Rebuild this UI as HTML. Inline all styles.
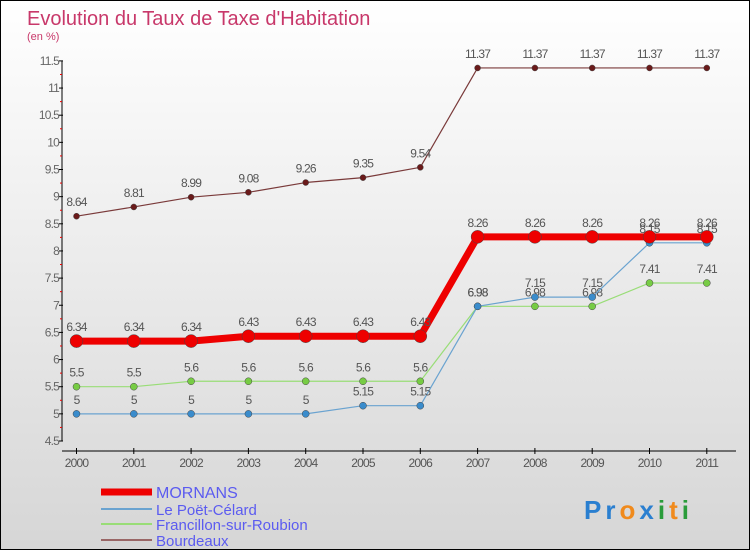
<!DOCTYPE html>
<html><head><meta charset="utf-8"><style>
html,body{margin:0;padding:0}
body{width:750px;height:550px;overflow:hidden;font-family:"Liberation Sans",sans-serif}
#wrap{position:relative;width:748px;height:548px;border:1px solid #000;background:linear-gradient(#ffffff,#d6d6d6)}
svg{position:absolute;left:0;top:0}
</style></head><body>
<div id="wrap">
<svg id="chart" width="750" height="550">
<text x="26" y="24" font-size="20" fill="#c8386a">Evolution du Taux de Taxe d'Habitation</text>
<text x="26" y="39" font-size="11" fill="#c8386a">(en %)</text>
<text x="583" y="518" font-size="26" font-weight="bold" letter-spacing="4"><tspan fill="#2a7fd0">Pr</tspan><tspan fill="#f08a1c">o</tspan><tspan fill="#2a7fd0">x</tspan><tspan fill="#2a9c3a">i</tspan><tspan fill="#f08a1c">t</tspan><tspan fill="#2a9c3a">i</tspan></text>
</svg>
</div>
<script>
const years=["2000","2001","2002","2003","2004","2005","2006","2007","2008","2009","2010","2011"];
const mornans=[6.34,6.34,6.34,6.43,6.43,6.43,6.43,8.26,8.26,8.26,8.26,8.26];
const poet=[5,5,5,5,5,5.15,5.15,6.98,7.15,7.15,8.15,8.15];
const francillon=[5.5,5.5,5.6,5.6,5.6,5.6,5.6,6.98,6.98,6.98,7.41,7.41];
const bourdeaux=[8.64,8.81,8.99,9.08,9.26,9.35,9.54,11.37,11.37,11.37,11.37,11.37];
const yTicks=[4.5,5,5.5,6,6.5,7,7.5,8,8.5,9,9.5,10,10.5,11,11.5];
const svg=document.getElementById('chart');
const NS='http://www.w3.org/2000/svg';
const xs=i=>75.5+i*57.3;
const ys=v=>440-(v-4.5)/0.5*27.15;
function mk(t,a,p){const e=document.createElementNS(NS,t);for(const k in a)e.setAttribute(k,a[k]);(p||svg).appendChild(e);return e;}
const ax=mk('g',{});


mk('line',{x1:61,y1:ys(11.5),x2:61,y2:ys(4.5),stroke:'#000','stroke-width':1},ax);
mk('line',{x1:61,y1:450,x2:735,y2:450,stroke:'#000','stroke-width':1},ax);
yTicks.forEach((v,i)=>{
 mk('line',{x1:58,y1:ys(v),x2:62,y2:ys(v),stroke:'#000'},ax);
 if(i<yTicks.length-1) mk('line',{x1:59,y1:ys(v+0.25),x2:61,y2:ys(v+0.25),stroke:'#e00'},ax);
 const t=mk('text',{x:58,y:ys(v)+4,'text-anchor':'end','font-size':12,fill:'#666','letter-spacing':'-0.8'},ax);
 t.textContent=String(v);
 
 
});
years.forEach((y,i)=>{
 mk('line',{x1:xs(i),y1:447,x2:xs(i),y2:453,stroke:'#000'},ax);
 const t=mk('text',{x:xs(i),y:466,'text-anchor':'middle','font-size':12,fill:'#555','letter-spacing':'-0.8'},ax);
 t.textContent=y;
 
 
});
function series(name,data,color,w,r,fill,labels){
 const g=mk('g',{});
 
 
 mk('polyline',{points:data.map((v,i)=>xs(i)+','+ys(v)).join(' '),fill:'none',stroke:color,'stroke-width':w,'stroke-linejoin':'round'},g);
 data.forEach((v,i)=>{
  const c=mk('circle',{cx:xs(i),cy:ys(v),r:r,fill:fill,stroke:'#444','stroke-width':0.5},g);
  
  
  if(labels){const t=mk('text',{x:xs(i),y:ys(v)-10,'text-anchor':'middle','font-size':12,fill:'#555','letter-spacing':'-0.8'},g);t.textContent=String(v);}
 });
}
series('bourdeaux',bourdeaux,'#7a3a3a',1.2,3,'#6a1a1a',true);
series('francillon',francillon,'#99dd77',1.2,3.5,'#77cc44',true);
series('poet-celard',poet,'#6aa3d0',1.2,3.5,'#3a8ccc',true);
series('mornans',mornans,'#ee0000',7,6.5,'#ee0000',true);
const lg=mk('g',{});


[['MORNANS','#ee0000',7,491,16],['Le Poët-Célard','#6aa3d0',2,508,15],['Francillon-sur-Roubion','#99dd77',2,523,15],['Bourdeaux','#996666',2,539,15]].forEach(d=>{
 mk('line',{x1:100,y1:d[3],x2:151,y2:d[3],stroke:d[1],'stroke-width':d[2]},lg);
 const t=mk('text',{x:155,y:d[3]+6,'font-size':d[4],fill:'#5b5bf0'},lg);
 t.textContent=d[0];
 
 
});
</script>
</body></html>
